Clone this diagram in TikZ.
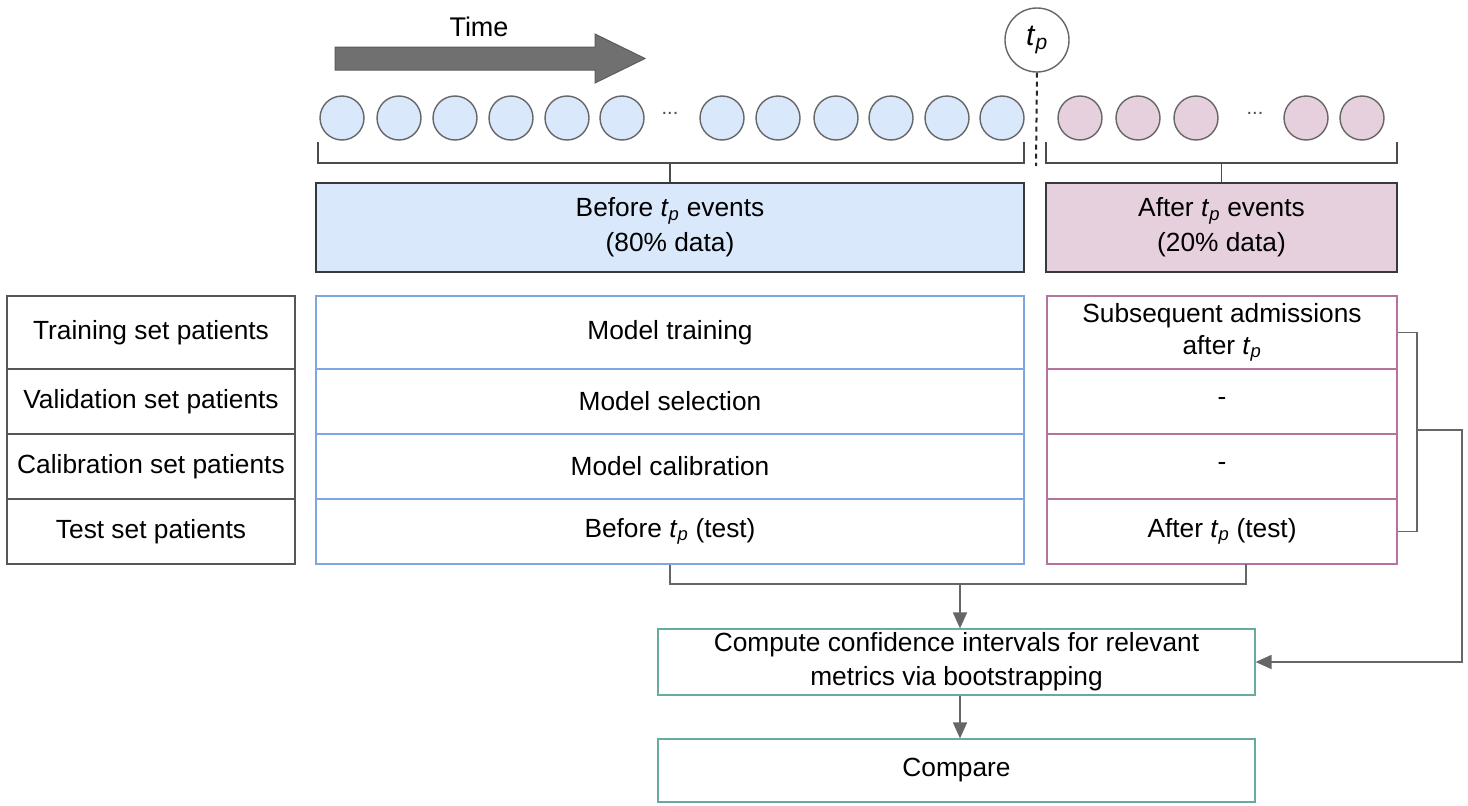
\documentclass[tikz,border=0pt]{standalone}
\usepackage{fontspec}
\setmainfont{Liberation Sans}
\usetikzlibrary{arrows.meta,calc}

\definecolor{evblue}{HTML}{DAE8FC}
\definecolor{evpink}{HTML}{E6D0DE}
\definecolor{rimgray}{HTML}{666666}
\definecolor{tblblue}{HTML}{7EA6E0}
\definecolor{tblpink}{HTML}{B5739D}
\definecolor{tblgreen}{HTML}{67AB9F}
\definecolor{linkgray}{HTML}{666666}
\definecolor{boxdark}{HTML}{36393D}

\newcommand{\tp}{\textit{t}\textsubscript{\textit{p}}}

\tikzset{
  every node/.style={font=\fontsize{26.3}{32}\selectfont, inner sep=0pt, align=center},
  ev/.style={circle, minimum size=44pt, draw=rimgray, line width=1.4pt},
  evb/.style={ev, fill=evblue},
  evp/.style={ev, fill=evpink},
  phase/.style={rectangle, draw=boxdark, line width=1.2pt, minimum height=89pt},
  cell/.style={rectangle, line width=1.2pt, minimum height=#1},
  lcell/.style={cell=#1, draw=boxdark!85, minimum width=288pt},
  bcell/.style={cell=#1, draw=tblblue, minimum width=708pt},
  pcell/.style={cell=#1, draw=tblpink, minimum width=350pt},
  gbox/.style={rectangle, draw=tblgreen, line width=1.2pt, minimum width=597pt},
  link/.style={draw=linkgray, line width=1.8pt},
  arr/.style={link, -{Triangle[length=16pt, width=14pt]}},
  brk/.style={draw=boxdark!90, line width=1.4pt},
}

\begin{document}
\begin{tikzpicture}[x=1pt, y=-1pt]
\useasboundingbox (0,0) rectangle (1468,806);

% time arrow
\filldraw[fill=black!56, draw=black!64, line width=1pt]
  (335,47) -- (595,47) -- (595,34) -- (645,58.5) -- (595,83) -- (595,70) -- (335,70) -- cycle;
\node[font=\fontsize{27}{31}\selectfont] (time) at (479,27) {Time};

% events before the cut point
\foreach \x [count=\i] in {342,399,455,511,567,622,722,778,836,891,947,1002}
  \node[evb] (eb\i) at (\x,118) {};
\node[text=black!70, font=\fontsize{20}{24}\selectfont] (dotsb) at (670,113) {...};

% events after the cut point
\foreach \x [count=\i] in {1080,1138,1196,1306,1362}
  \node[evp] (ea\i) at (\x,118) {};
\node[text=black!70, font=\fontsize{20}{24}\selectfont] (dotsa) at (1255,113) {...};

% cut point
\node[circle, draw=rimgray, line width=1.4pt, minimum size=64pt, fill=white,
      font=\fontsize{30}{34}\selectfont] (tp) at (1037,40) {\tp};
\coordinate (tpend) at (1036,166);
\draw[black!85, line width=2pt, dash pattern=on 5pt off 4pt] (tp.south) -- (tpend);

% phase boxes
\node[phase, fill=evblue, minimum width=708pt] (before) at (670,227.5)
  {Before \tp\ events\\[3pt](80\% data)};
\node[phase, fill=evpink, minimum width=351pt] (after) at (1221.5,227.5)
  {After \tp\ events\\[3pt](20\% data)};

% brackets grouping the events
\coordinate (lbl) at (318,142);
\coordinate (lbr) at (1024,142);
\coordinate (rbl) at (1046,142);
\coordinate (rbr) at (1397,142);
\draw[brk] (lbl) -- ++(0,21) -- ($(lbr)+(0,21)$) -- (lbr);
\draw[brk] (rbl) -- ++(0,21) -- ($(rbr)+(0,21)$) -- (rbr);
\draw[brk] (before.north) -- ++(0,-20);
\draw[brk] (after.north) -- ++(0,-20);

% patient split table
\node[lcell=73pt] (l1) at (151,332.5) {Training set patients};
\node[lcell=65pt] (l2) at (151,401.5) {Validation set patients};
\node[lcell=65pt] (l3) at (151,466.5) {Calibration set patients};
\node[lcell=65pt] (l4) at (151,531.5) {Test set patients};

\node[bcell=73pt] (b1) at (670,332.5) {Model training};
\node[bcell=65pt] (b2) at (670,401.5) {Model selection};
\node[bcell=65pt] (b3) at (670,466.5) {Model calibration};
\node[bcell=65pt] (b4) at (670,531.5) {Before \tp\ (test)};

\node[pcell=73pt] (p1) at (1222,332.5) {Subsequent admissions\\[0pt]after \tp};
\node[pcell=65pt] (p2) at (1222,401.5) {-};
\node[pcell=65pt] (p3) at (1222,466.5) {-};
\node[pcell=65pt] (p4) at (1222,531.5) {After \tp\ (test)};

% evaluation boxes
\node[gbox, minimum height=66pt] (ci) at (956.5,662)
  {Compute confidence intervals for relevant\\[2pt]metrics via bootstrapping};
\node[gbox, minimum height=63pt] (cmp) at (956.5,770.5) {Compare};

% test results merge into the bootstrap step
\coordinate (pk) at (1246,564);
\coordinate (mid) at (960,583);
\draw[link] (b4.south) -- ++(0,19) -| (pk);
\draw[arr] (mid) -- (mid |- ci.north);

% subsequent admissions and post-cut test feed the bootstrap step
\coordinate (rjoin) at (1417,430);
\coordinate (rturn) at (1462,430);
\draw[link] (p1.east) -| (rjoin) |- (p4.east);
\draw[arr] (rjoin) -- (rturn) |- (ci.east);

\draw[arr] (ci.south -| mid) -- (cmp.north -| mid);
\end{tikzpicture}
\end{document}
